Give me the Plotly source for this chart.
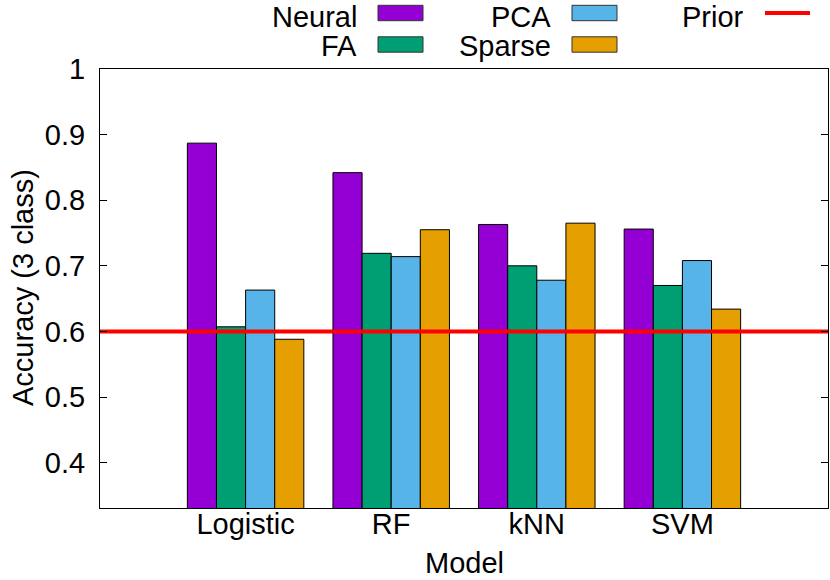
import plotly.graph_objects as go

categories = ["Logistic", "RF", "kNN", "SVM"]
series_names = ["Neural", "FA", "PCA", "Sparse"]
neural = [0.887, 0.842, 0.763, 0.756]
fa = [0.607, 0.719, 0.700, 0.670]
pca = [0.663, 0.714, 0.678, 0.708]
sparse = [0.588, 0.755, 0.765, 0.634]
prior_value = 0.6
y_tick_vals = [0.4, 0.5, 0.6, 0.7, 0.8, 0.9, 1.0]
y_tick_text = ["0.4", "0.5", "0.6", "0.7", "0.8", "0.9", "1"]
x_title = "Model"
y_title = "Accuracy (3 class)"

colors = ["#9400d3", "#009e73", "#56b4e9", "#e69f00"]
values = [neural, fa, pca, sparse]

W, H = 830, 580
L, R, T, B = 100, 828, 69, 508
FONT = "Liberation Sans"
FS = 29

def px_x(px):
    return (px - L) / (R - L)

def px_y(py):
    return (B - py) / (B - T)

xpos = list(range(len(categories)))
fig = go.Figure()
for name, vals, col in zip(series_names, values, colors):
    fig.add_trace(go.Bar(x=xpos, y=vals, name=name,
                         marker=dict(color=col, line=dict(color="black", width=1)),
                         showlegend=False))

x_range = [-1, len(categories)]
fig.add_trace(go.Scatter(x=x_range, y=[prior_value, prior_value], mode="lines", name="Prior",
                         line=dict(color="#ff0000", width=4), showlegend=False))

# gnuplot-style legend (text to the left of the sample)
legend_items = [
    ("Neural", colors[0], "box", 358, 13),
    ("FA", colors[1], "box", 358, 44.5),
    ("PCA", colors[2], "box", 552, 13),
    ("Sparse", colors[3], "box", 552, 44.5),
    ("Prior", "#ff0000", "line", 745, 13),
]
shapes = []
annotations = []
for text, col, kind, xr, yc in legend_items:
    text_top = max(0, yc - 15.5)
    annotations.append(dict(x=px_x(xr), y=px_y(text_top), xref="paper", yref="paper", text=text,
                            showarrow=False, xanchor="right", yanchor="top", borderpad=0,
                            font=dict(family=FONT, size=FS, color="black")))
    x0 = xr + 20
    x1 = x0 + 45
    if kind == "box":
        shapes.append(dict(type="rect", xref="paper", yref="paper", x0=px_x(x0), x1=px_x(x1),
                           y0=px_y(yc - 7.7), y1=px_y(yc + 7.7), fillcolor=col,
                           line=dict(color="#333333", width=1)))
    else:
        shapes.append(dict(type="line", xref="paper", yref="paper", x0=px_x(x0), x1=px_x(x1),
                           y0=px_y(yc), y1=px_y(yc), line=dict(color=col, width=4)))

# axis titles
annotations.append(dict(x=px_x(464), y=px_y(580), xref="paper", yref="paper", text=x_title,
                        showarrow=False, xanchor="center", yanchor="bottom", borderpad=0,
                        font=dict(family=FONT, size=FS, color="black")))
annotations.append(dict(x=px_x(23), y=px_y(288), xref="paper", yref="paper", text=y_title,
                        showarrow=False, xanchor="center", yanchor="middle", textangle=-90,
                        font=dict(family=FONT, size=FS, color="black")))

fig.update_layout(
    width=W, height=H,
    margin=dict(l=L, r=W - R, t=T, b=H - B, pad=0, autoexpand=False),
    plot_bgcolor="white", paper_bgcolor="white",
    barmode="group", bargap=0.2, bargroupgap=0,
    font=dict(family=FONT, size=FS, color="black"),
    shapes=shapes, annotations=annotations,
    showlegend=False,
)
fig.update_xaxes(range=x_range, tickvals=xpos, ticktext=categories, ticks="", showline=True,
                 linecolor="black", linewidth=1, mirror=True, showgrid=False, zeroline=False,
                 automargin=False, tickfont=dict(family=FONT, size=FS), ticklabelstandoff=-10)
fig.update_yaxes(range=[0.3308, 1.0], tickvals=y_tick_vals, ticktext=y_tick_text, ticks="inside",
                 ticklen=7, tickcolor="black", showline=True, linecolor="black", linewidth=1,
                 mirror="ticks", showgrid=False, zeroline=False, automargin=False,
                 ticklabelstandoff=8, tickfont=dict(family=FONT, size=FS))

fig.write_html("out.html", config={"displayModeBar": False},
               post_script="document.body.style.margin='0';document.body.style.overflow='hidden';")
